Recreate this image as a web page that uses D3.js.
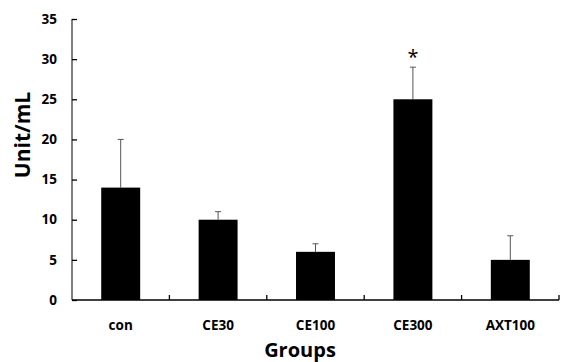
<!DOCTYPE html>
<html>
<head>
<meta charset="utf-8">
<script src="https://cdn.jsdelivr.net/npm/d3@7"></script>
<style>
body { margin: 0; background: #fff; }
text { font-family: "Open Sans", "Noto Sans", sans-serif; }
</style>
</head>
<body>
<div id="chart"></div>
<script>
// groups, means and upper error bar tops
var groups = ["con", "CE30", "CE100", "CE300", "AXT100"];
var means = [14, 10, 6, 25, 5];
var errTops = [20, 11, 7, 29, 8];
var stars = ["", "", "", "*", ""];
var yTicks = [0, 5, 10, 15, 20, 25, 30, 35];

var W = 563, H = 362;
var x0 = 72, x1 = 559, yTop = 19, yBot = 300;

var svg = d3.select("#chart").append("svg")
	.attr("width", W)
	.attr("height", H);

var x = d3.scaleBand().domain(groups).range([x0, x1]).padding(0);
var y = d3.scaleLinear().domain([0, 35]).range([yBot, yTop]);

var data = groups.map(function(g, i) {
	return {g: g, v: means[i], e: errTops[i], s: stars[i]};
});

var barW = x.bandwidth() * 0.4;

// error bars (drawn first so bar covers lower part)
var eb = svg.append("g").attr("stroke", "#555").attr("stroke-width", 1);
data.forEach(function(d) {
	var cx = x(d.g) + x.bandwidth() / 2;
	eb.append("line")
		.attr("x1", cx).attr("x2", cx)
		.attr("y1", y(d.v)).attr("y2", y(d.e));
	eb.append("line")
		.attr("x1", cx - 3).attr("x2", cx + 3)
		.attr("y1", y(d.e)).attr("y2", y(d.e));
});

svg.selectAll("rect.bar")
	.data(data)
  .enter().append("rect")
	.attr("class", "bar")
	.attr("x", function(d) { return x(d.g) + x.bandwidth() / 2 - barW / 2; })
	.attr("y", function(d) { return y(d.v); })
	.attr("width", barW)
	.attr("height", function(d) { return y(0) - y(d.v); })
	.attr("fill", "#000");

svg.selectAll("text.star")
	.data(data.filter(function(d) { return d.s; }))
  .enter().append("text")
	.attr("class", "star")
	.attr("x", function(d) { return x(d.g) + x.bandwidth() / 2; })
	.attr("y", function(d) { return y(d.e) - 3; })
	.attr("text-anchor", "middle")
	.style("font-size", "20px")
	.text(function(d) { return d.s; });

// y axis, ticks pointing inward
var yAxis = svg.append("g")
	.attr("transform", "translate(" + x0 + ",0)")
	.call(d3.axisRight(y).tickValues(yTicks).tickSize(5).tickFormat(""));
yAxis.select(".domain").attr("d", "M0," + yTop + "V" + yBot);
yAxis.selectAll("line").attr("stroke", "#000").attr("stroke-width", 1.3);

svg.selectAll("text.ylab")
	.data(yTicks)
  .enter().append("text")
	.attr("class", "ylab")
	.attr("x", 57)
	.attr("y", function(d) { return y(d); })
	.attr("dy", "0.35em")
	.attr("text-anchor", "end")
	.style("font-size", "13.5px")
	.style("font-weight", "bold")
	.text(function(d) { return d; });

// x axis with boundary ticks pointing up
var xg = svg.append("g");
xg.append("line")
	.attr("x1", x0).attr("x2", x1)
	.attr("y1", yBot).attr("y2", yBot)
	.attr("stroke", "#000").attr("stroke-width", 1.5);
groups.slice(1).concat(["end"]).forEach(function(g) {
	var px = g === "end" ? x1 : x(g);
	xg.append("line")
		.attr("x1", px).attr("x2", px)
		.attr("y1", yBot).attr("y2", yBot - 5)
		.attr("stroke", "#000").attr("stroke-width", 1.3);
});

svg.selectAll("text.xlab")
	.data(groups)
  .enter().append("text")
	.attr("class", "xlab")
	.attr("x", function(d) { return x(d) + x.bandwidth() / 2; })
	.attr("y", 330)
	.attr("text-anchor", "middle")
	.style("font-size", "13.5px")
	.style("font-weight", "bold")
	.text(function(d) { return d; });

svg.append("text")
	.attr("transform", "rotate(-90)")
	.attr("x", -135)
	.attr("y", 30)
	.attr("text-anchor", "middle")
	.style("font-size", "21px")
	.style("font-weight", "bold")
	.text("Unit/mL");

svg.append("text")
	.attr("x", 300)
	.attr("y", 357)
	.attr("text-anchor", "middle")
	.style("font-size", "20px")
	.style("font-weight", "bold")
	.text("Groups");
</script>
</body>
</html>
